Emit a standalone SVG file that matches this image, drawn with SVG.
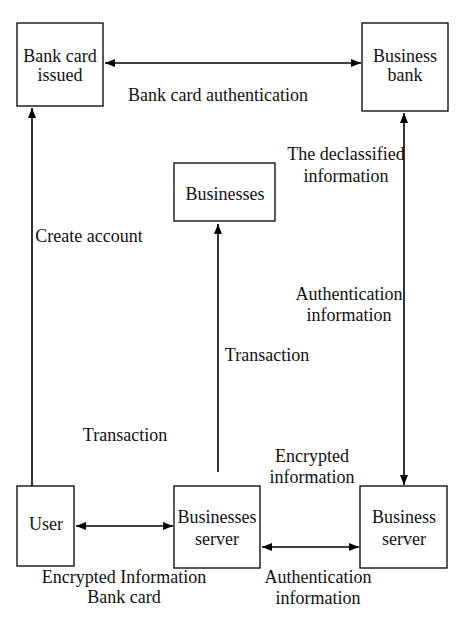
<svg xmlns="http://www.w3.org/2000/svg" width="457" height="619" viewBox="0 0 457 619">
<style>
rect{fill:#fff;stroke:#000;stroke-width:1.3}
text{font-family:'Liberation Serif','DejaVu Serif',serif;font-size:18px;fill:#111;text-anchor:middle}
.c line{stroke:#000;stroke-width:1.6}
</style>
<defs>
<marker id="a" viewBox="0 0 10 8" refX="10" refY="4" markerWidth="10" markerHeight="8" markerUnits="userSpaceOnUse" orient="auto-start-reverse">
<path d="M0,0L10,4L0,8z" fill="#000"/>
</marker>
</defs>
<rect width="457" height="619" style="stroke:none"/>
<g class="c" id="connectors">
<line x1="105" y1="63" x2="361" y2="63" marker-start="url(#a)" marker-end="url(#a)"/>
<line x1="32" y1="486" x2="32" y2="108" marker-end="url(#a)"/>
<line x1="404" y1="113" x2="404" y2="485" marker-start="url(#a)" marker-end="url(#a)"/>
<line x1="218" y1="472" x2="218" y2="224" marker-end="url(#a)"/>
<line x1="76" y1="526" x2="173" y2="526" marker-start="url(#a)" marker-end="url(#a)"/>
<line x1="262" y1="547" x2="359" y2="547" marker-start="url(#a)" marker-end="url(#a)"/>
</g>
<g id="labels">
<text x="218" y="101">Bank card authentication</text>
<text x="346" y="160">The declassified</text>
<text x="346" y="182">information</text>
<text x="89" y="242">Create account</text>
<text x="349" y="300">Authentication</text>
<text x="349" y="321">information</text>
<text x="267" y="361">Transaction</text>
<text x="125" y="441">Transaction</text>
<text x="312" y="462">Encrypted</text>
<text x="312" y="483">information</text>
<text x="124" y="583">Encrypted Information</text>
<text x="124" y="603">Bank card</text>
<text x="318" y="583">Authentication</text>
<text x="318" y="604">information</text>
</g>
<g id="bank-card-issued">
<rect x="17" y="23" width="86" height="83"/>
<text x="60" y="62">Bank card</text>
<text x="60" y="81">issued</text>
</g>
<g id="business-bank">
<rect x="362" y="23" width="86" height="88"/>
<text x="405" y="62">Business</text>
<text x="405" y="81">bank</text>
</g>
<g id="businesses">
<rect x="174" y="163" width="101" height="58"/>
<text x="225" y="200">Businesses</text>
</g>
<g id="user">
<rect x="17" y="486" width="57" height="80"/>
<text x="46" y="530">User</text>
</g>
<g id="businesses-server">
<rect x="174" y="486" width="86" height="82"/>
<text x="217" y="523">Businesses</text>
<text x="217" y="545">server</text>
</g>
<g id="business-server">
<rect x="360" y="486" width="87" height="82"/>
<text x="404" y="523">Business</text>
<text x="404" y="545">server</text>
</g>
</svg>
